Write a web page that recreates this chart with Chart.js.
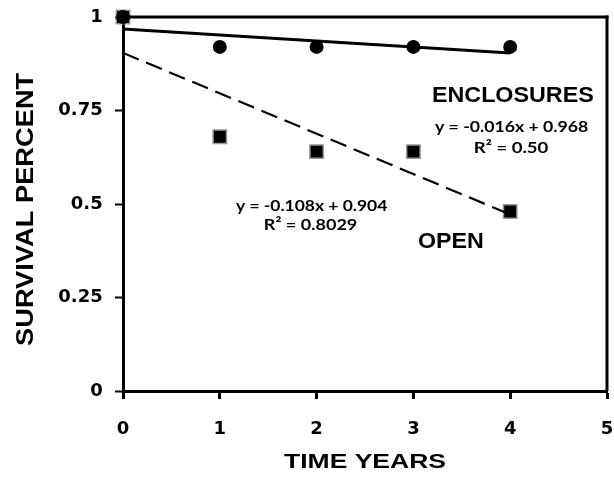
<!DOCTYPE html>
<html><head><meta charset="utf-8">
<script src="https://cdn.jsdelivr.net/npm/chart.js@4"></script>
<style>html,body{margin:0;padding:0;background:#fff;overflow:hidden}#wrap{width:614px;height:484px}canvas{display:block}</style>
</head><body><div id="wrap"><canvas id="c" width="614" height="484"></canvas></div>
<script>
const years = [0, 1, 2, 3, 4];
const enclosures = [1, 0.92, 0.92, 0.92, 0.92];
const openSite = [1, 0.68, 0.64, 0.64, 0.48];
const encFit = { slope: -0.016, intercept: 0.968, label: 'y = -0.016x + 0.968', r2: 'R² = 0.50' };
const openFit = { slope: -0.108, intercept: 0.904, label: 'y = -0.108x + 0.904', r2: 'R² = 0.8029' };
const xTicks = [0, 1, 2, 3, 4, 5];
const yTicks = [0, 0.25, 0.5, 0.75, 1];
const xTitle = 'TIME YEARS';
const yTitle = 'SURVIVAL PERCENT';

const fitPts = f => [0, 4].map(x => ({ x, y: f.intercept + f.slope * x }));
const ARIAL = '"Liberation Sans", Arial, sans-serif';
const CALI = 'Lato, "Open Sans", sans-serif';
const TICKF = '"DejaVu Sans", sans-serif';

function drawFit(ctx, text, cx, base, inkW, size, family, rot) {
  ctx.save();
  ctx.font = 'bold ' + size + 'px ' + family;
  ctx.textAlign = 'left';
  ctx.textBaseline = 'alphabetic';
  const m = ctx.measureText(text);
  const w = m.actualBoundingBoxLeft + m.actualBoundingBoxRight;
  ctx.translate(cx, base);
  if (rot) ctx.rotate(rot);
  ctx.scale(inkW / w, 1);
  ctx.fillText(text, -(m.actualBoundingBoxRight - m.actualBoundingBoxLeft) / 2, 0);
  ctx.restore();
}

const textPlugin = {
  id: 'annot',
  afterDraw(chart) {
    const { ctx, scales: { x, y }, chartArea: a } = chart;
    // top and right frame of the plot area, from the scales' end values
    const xR = x.getPixelForValue(xTicks[xTicks.length - 1]);
    const xL = x.getPixelForValue(xTicks[0]);
    const yT = y.getPixelForValue(yTicks[yTicks.length - 1]);
    const yB = y.getPixelForValue(yTicks[0]);
    ctx.save();
    ctx.globalAlpha = 1;
    ctx.globalCompositeOperation = 'source-over';
    ctx.setLineDash([]);
    ctx.fillStyle = '#000';
    ctx.fillRect(xL, yT - 1.5, xR - xL + 1.5, 3);
    ctx.fillRect(xR - 1.5, yT - 1.5, 3, yB - yT + 1.5);
    ctx.restore();

    ctx.fillStyle = '#000';
    const put = (t, dx, dy, w, size, fam) =>
      drawFit(ctx, t, x.getPixelForValue(dx), y.getPixelForValue(dy), w, size, fam, 0);
    put('ENCLOSURES', 4.029, 0.7735, 160, 22, ARIAL);
    put(encFit.label, 4.013, 0.6933, 153, 16, CALI);
    put(encFit.r2, 4.013, 0.6356, 73, 16, CALI);
    put(openFit.label, 1.947, 0.4821, 151, 16, CALI);
    put(openFit.r2, 1.942, 0.4305, 92, 16, CALI);
    put('OPEN', 3.383, 0.3824, 65, 22, ARIAL);
    drawFit(ctx, xTitle, (a.left + a.right) / 2, chart.height - 15.7, 162, 21, ARIAL, 0);
    drawFit(ctx, yTitle, 33, (a.top + a.bottom) / 2 + 5, 274, 23.5, ARIAL, -Math.PI / 2);
  }
};

new Chart(document.getElementById('c'), {
  type: 'scatter',
  data: {
    datasets: [
      { label: 'Enclosures fit', type: 'line', data: fitPts(encFit), borderColor: '#000', borderWidth: 3, pointRadius: 0, fill: false },
      { label: 'Open fit', type: 'line', data: fitPts(openFit), borderColor: '#000', borderWidth: 2.2, borderDash: [17, 8], pointRadius: 0, fill: false },
      { label: 'Enclosures', data: years.map((x, i) => ({ x, y: enclosures[i] })), pointStyle: 'circle', pointRadius: 7, backgroundColor: '#000', borderColor: '#000', borderWidth: 0, clip: false },
      { label: 'Open', data: years.map((x, i) => ({ x, y: openSite[i] })), pointStyle: 'rect', pointRadius: 9.5, backgroundColor: '#000', borderColor: '#999', borderWidth: 1.5, clip: false }
    ]
  },
  options: {
    responsive: false,
    animation: false,
    devicePixelRatio: 1,
    layout: { autoPadding: false, padding: { top: 17, right: 7, left: 0, bottom: 0 } },
    plugins: { legend: { display: false }, tooltip: { enabled: false } },
    scales: {
      x: {
        type: 'linear', min: 0, max: 5, position: 'bottom',
        afterBuildTicks: s => { s.ticks = xTicks.map(v => ({ value: v })); },
        afterFit: s => { s.height = 93; },
        grid: { drawOnChartArea: false, drawTicks: true, tickLength: 8, color: '#000', tickWidth: 3 },
        border: { color: '#000', width: 3 },
        ticks: { color: '#000', font: { family: TICKF, size: 18, weight: 'bold', lineHeight: 3.4 }, padding: 0, maxRotation: 0, callback: v => String(v) }
      },
      y: {
        type: 'linear', min: 0, max: 1, position: 'left',
        afterBuildTicks: s => { s.ticks = yTicks.map(v => ({ value: v })); },
        afterFit: s => { s.width = 123; },
        grid: { drawOnChartArea: false, drawTicks: true, tickLength: 8, color: '#000', tickWidth: 2 },
        border: { color: '#000', width: 3 },
        ticks: { color: '#000', font: { family: TICKF, size: 18, weight: 'bold' }, padding: 6, callback: v => String(v) + ' ' }
      }
    }
  },
  plugins: [textPlugin]
});
</script></body></html>
